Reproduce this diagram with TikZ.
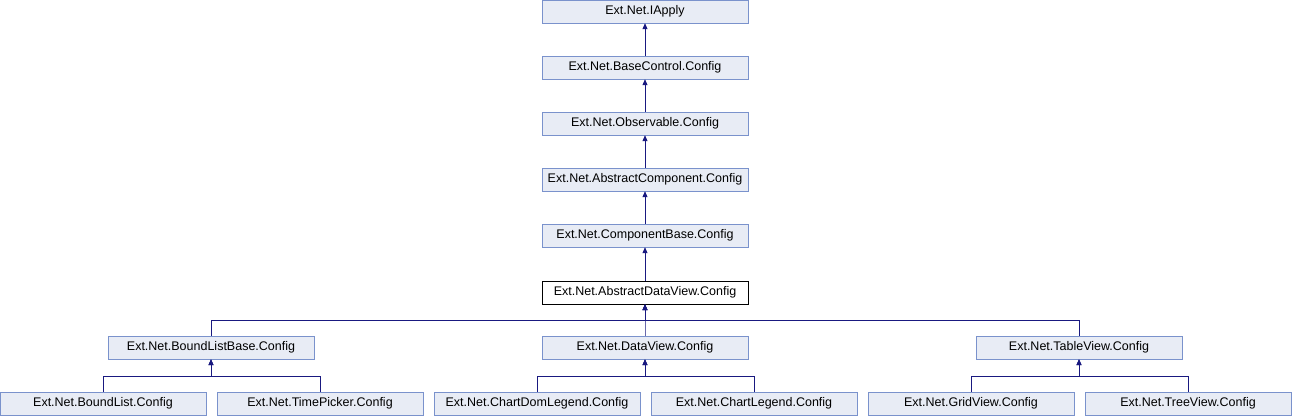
\documentclass[tikz,border=0pt]{standalone}
\usepackage{fontspec}
\setmainfont{Liberation Sans}
\usetikzlibrary{arrows.meta}

\definecolor{boxfill}{RGB}{232,236,245}
\definecolor{boxline}{RGB}{122,146,204}
\definecolor{edgeblue}{RGB}{25,25,128}

\tikzset{
  cls/.style={draw=boxline,fill=boxfill,minimum width=206pt,minimum height=23pt,
    inner sep=0pt,font=\fontsize{12.5}{14}\selectfont},
  here/.style={cls,draw=black,fill=white},
  edge/.style={draw=edgeblue,line width=0.9pt,-{Triangle[width=5pt,length=6pt]}}
}

\begin{document}
\begin{tikzpicture}[x=1pt,y=1pt]

\useasboundingbox (0,0) rectangle (1292,-416);

\node[cls] (iapply) at (645,-11.5) {Ext.Net.IApply};
\node[cls] (basecontrol) at (645,-67.5) {Ext.Net.BaseControl.Config};
\node[cls] (observable) at (645,-123.5) {Ext.Net.Observable.Config};
\node[cls] (abscomp) at (645,-179.5) {Ext.Net.AbstractComponent.Config};
\node[cls] (compbase) at (645,-235.5) {Ext.Net.ComponentBase.Config};
\node[here] (absdataview) at (645,-292.5) {Ext.Net.AbstractDataView.Config};

\node[cls] (boundlistbase) at (211,-347.5) {Ext.Net.BoundListBase.Config};
\node[cls] (dataview) at (645,-347.5) {Ext.Net.DataView.Config};
\node[cls] (tableview) at (1079,-347.5) {Ext.Net.TableView.Config};

\node[cls] (boundlist) at (103,-403.5) {Ext.Net.BoundList.Config};
\node[cls] (timepicker) at (320,-403.5) {Ext.Net.TimePicker.Config};
\node[cls] (chartdomlegend) at (537,-403.5) {Ext.Net.ChartDomLegend.Config};
\node[cls] (chartlegend) at (754,-403.5) {Ext.Net.ChartLegend.Config};
\node[cls] (gridview) at (971,-403.5) {Ext.Net.GridView.Config};
\node[cls] (treeview) at (1188,-403.5) {Ext.Net.TreeView.Config};

% straight chain
\draw[edge] (basecontrol) -- (iapply);
\draw[edge] (observable) -- (basecontrol);
\draw[edge] (abscomp) -- (observable);
\draw[edge] (compbase) -- (abscomp);
\draw[edge] (absdataview) -- (compbase);

% branches
\foreach \c in {boundlistbase,dataview,tableview}
{
\draw[edge] (\c.north) -- ++(0,15) -| (absdataview.south);
}
\foreach \c in {boundlist,timepicker}
{
\draw[edge] (\c.north) -- ++(0,15) -| (boundlistbase.south);
}
\foreach \c in {chartdomlegend,chartlegend}
{
\draw[edge] (\c.north) -- ++(0,15) -| (dataview.south);
}
\foreach \c in {gridview,treeview}
{
\draw[edge] (\c.north) -- ++(0,15) -| (tableview.south);
}

\end{tikzpicture}
\end{document}
